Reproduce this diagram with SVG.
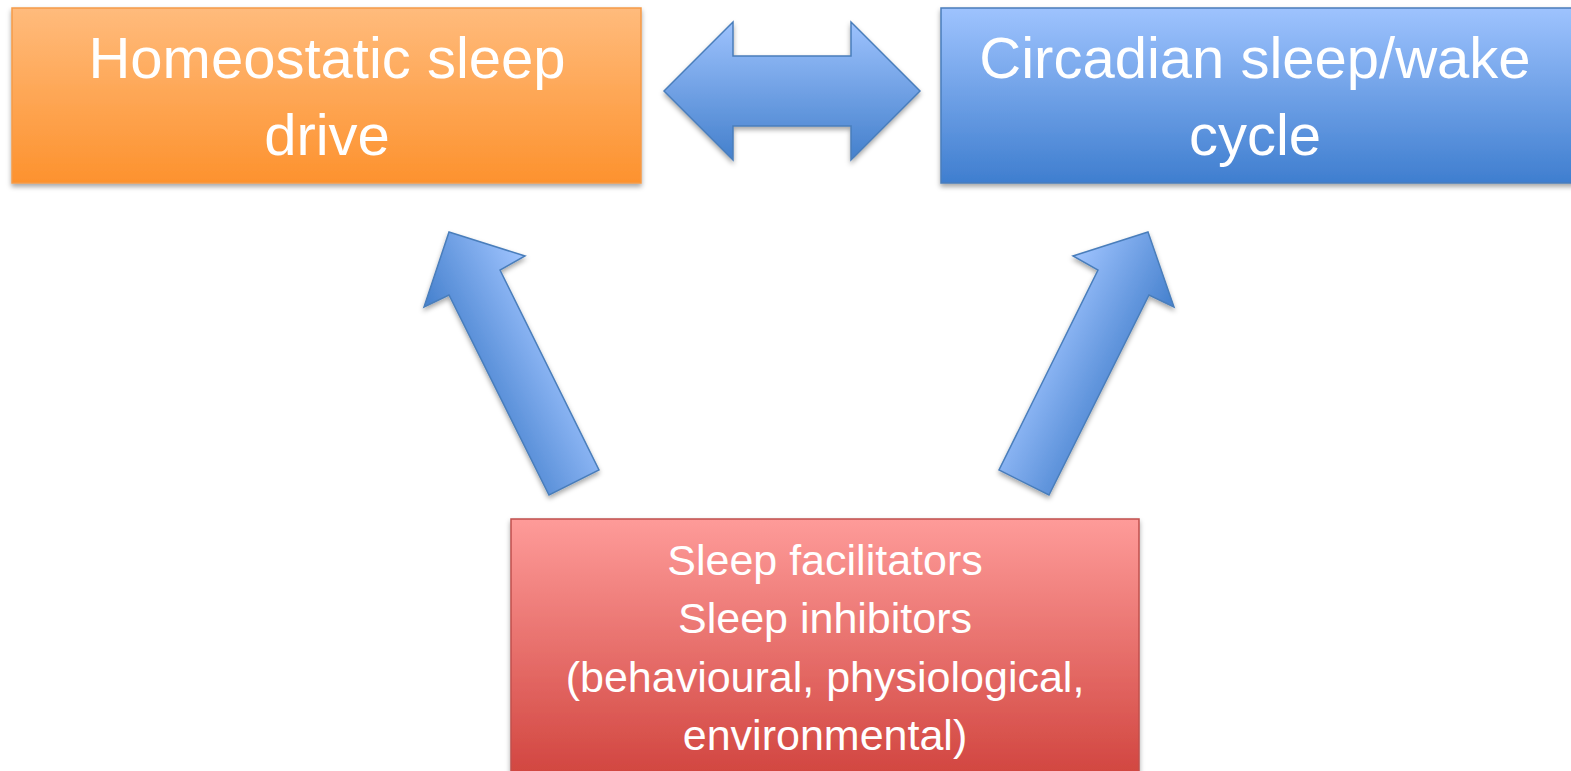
<svg xmlns="http://www.w3.org/2000/svg" width="1571" height="771" viewBox="0 0 1571 771">
<style>
.lbl{font-family:"Liberation Sans",Arial,sans-serif;fill:#ffffff;text-anchor:middle}
.big{font-size:58px}
.small{font-size:43px}
.arrow{stroke:#4a7ebb;stroke-width:1.5;stroke-linejoin:miter}
</style>
<defs>
<filter id="sh" x="-10%" y="-10%" width="120%" height="130%">
<feDropShadow dx="0" dy="3" stdDeviation="2.5" flood-color="#000" flood-opacity="0.35"/>
</filter>
<linearGradient id="gOrange" x1="0" y1="0" x2="0" y2="1">
<stop offset="0" stop-color="#ffbb7c"/>
<stop offset="1" stop-color="#fd922e"/>
</linearGradient>
<linearGradient id="gBlue" x1="0" y1="0" x2="0" y2="1">
<stop offset="0" stop-color="#9ec3fe"/>
<stop offset="1" stop-color="#3f7ecf"/>
</linearGradient>
<linearGradient id="gRed" x1="0" y1="0" x2="0" y2="1">
<stop offset="0" stop-color="#fe9b99"/>
<stop offset="1" stop-color="#cf413b"/>
</linearGradient>
<linearGradient id="gDbl" x1="0" y1="0" x2="0" y2="1">
<stop offset="0" stop-color="#9dc2fd"/>
<stop offset="1" stop-color="#4480cc"/>
</linearGradient>
<linearGradient id="gUpL" gradientUnits="userSpaceOnUse" x1="478" y1="400" x2="570" y2="355">
<stop offset="0" stop-color="#4a84d0"/>
<stop offset="1" stop-color="#9dc2fd"/>
</linearGradient>
<linearGradient id="gUpR" gradientUnits="userSpaceOnUse" x1="1028" y1="355" x2="1120" y2="400">
<stop offset="0" stop-color="#9dc2fd"/>
<stop offset="1" stop-color="#4a84d0"/>
</linearGradient>
</defs>

<g id="node-homeostatic">
<rect x="12" y="8" width="629" height="175" fill="url(#gOrange)" stroke="#f59a48" stroke-width="1.5" filter="url(#sh)"/>
<text class="lbl big" x="327" y="78">Homeostatic sleep</text>
<text class="lbl big" x="327" y="155">drive</text>
</g>

<g id="node-circadian">
<rect x="941" y="8" width="640" height="175" fill="url(#gBlue)" stroke="#4a7ebb" stroke-width="1.5" filter="url(#sh)"/>
<text class="lbl big" x="1255" y="78">Circadian sleep/wake</text>
<text class="lbl big" x="1255" y="155">cycle</text>
</g>

<g id="node-factors">
<rect x="511" y="519" width="628" height="270" fill="url(#gRed)" stroke="#c0504d" stroke-width="1.5" filter="url(#sh)"/>
<text class="lbl small" x="825" y="575">Sleep facilitators</text>
<text class="lbl small" x="825" y="633">Sleep inhibitors</text>
<text class="lbl small" x="825" y="692">(behavioural, physiological,</text>
<text class="lbl small" x="825" y="750">environmental)</text>
</g>

<g id="connectors">
<polygon class="arrow" filter="url(#sh)" fill="url(#gDbl)" points="664,91 733,22 733,56 851,56 851,22 920,91 851,160 851,126 733,126 733,160"/>
<polygon class="arrow" filter="url(#sh)" fill="url(#gUpL)" points="449,232 525,256 500,270 599,470 549,495 449,295 424,307"/>
<polygon class="arrow" filter="url(#sh)" fill="url(#gUpR)" points="1148,232 1174,307 1149,295 1049,495 999,470 1098,270 1073,256"/>
</g>
</svg>
